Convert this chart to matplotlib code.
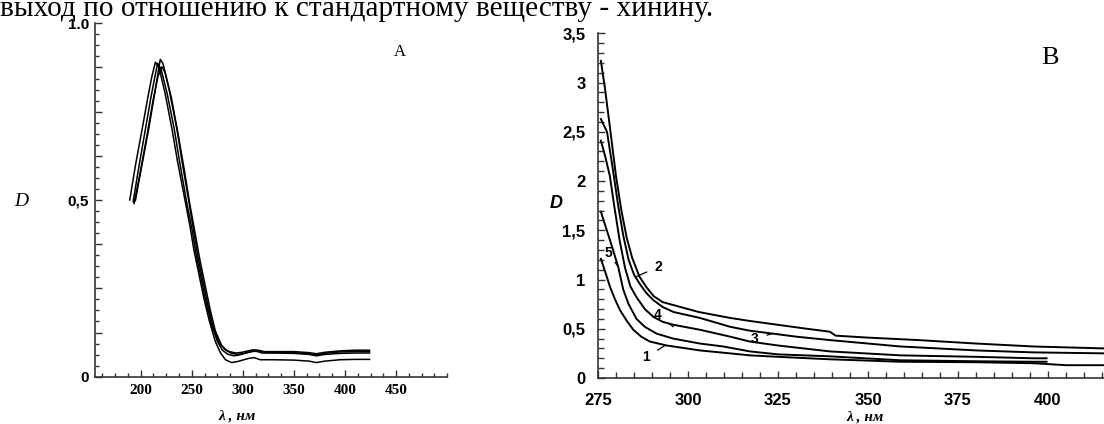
import matplotlib
matplotlib.use("Agg")
import matplotlib.pyplot as plt
from matplotlib.ticker import MultipleLocator, FixedLocator, FixedFormatter

# ---------------- data ----------------
caption = "выход по отношению к стандартному веществу - хинину."

# Panel A: four absorption spectra (wavelength, nm / optical density D)
a1_wl = [189.3, 195, 201.4, 207, 211, 214.4, 218, 224, 230.7, 236, 242, 248, 252, 257, 262, 267, 273, 278, 283, 289,
         295, 301, 306, 311, 317, 330, 350, 365, 372, 380, 395, 410, 424]
a1_d = [0.50, 0.60, 0.70, 0.79, 0.85, 0.89, 0.875, 0.80, 0.70, 0.61, 0.52, 0.43, 0.36, 0.29, 0.22, 0.16, 0.10, 0.068,
        0.048, 0.040, 0.043, 0.048, 0.052, 0.054, 0.048, 0.048, 0.047, 0.044, 0.040, 0.044, 0.048, 0.049, 0.049]

a2_wl = [192.6, 198, 204.6, 210, 214, 216.6, 220, 226, 232.9, 238, 244.6, 250, 254, 259, 264, 269, 275, 280, 285, 291,
         297, 303, 308, 313, 319, 332, 350, 365, 372, 380, 395, 410, 424]
a2_d = [0.495, 0.59, 0.70, 0.79, 0.85, 0.887, 0.87, 0.80, 0.70, 0.61, 0.50, 0.42, 0.35, 0.28, 0.21, 0.15, 0.10, 0.075,
        0.064, 0.059, 0.062, 0.067, 0.071, 0.072, 0.067, 0.067, 0.066, 0.063, 0.059, 0.063, 0.066, 0.067, 0.067]

a3_wl = [194.8, 200, 207.8, 213, 217, 219.2, 222, 228, 235.5, 241, 246.9, 252, 256, 261, 266, 271, 277, 282, 287, 293,
         299, 305, 310, 315, 321, 335, 350, 365, 372, 380, 395, 410, 424]
a3_d = [0.498, 0.58, 0.70, 0.79, 0.86, 0.898, 0.885, 0.81, 0.70, 0.60, 0.50, 0.41, 0.34, 0.27, 0.20, 0.14, 0.095, 0.078,
        0.071, 0.067, 0.069, 0.073, 0.076, 0.075, 0.071, 0.071, 0.071, 0.068, 0.065, 0.069, 0.073, 0.075, 0.075]

a4_wl = [193.5, 199, 206, 212, 217, 220.9, 224, 230, 237, 243, 248, 253, 258, 263, 268, 273, 279, 284, 289, 295,
         301, 307, 312, 317, 323, 337, 350, 365, 372, 380, 395, 410, 424]
a4_d = [0.49, 0.57, 0.68, 0.78, 0.85, 0.877, 0.86, 0.79, 0.68, 0.58, 0.49, 0.41, 0.33, 0.26, 0.19, 0.13, 0.09, 0.074,
        0.066, 0.063, 0.066, 0.070, 0.074, 0.072, 0.068, 0.068, 0.068, 0.065, 0.062, 0.066, 0.070, 0.071, 0.071]

a_xticks = [200, 250, 300, 350, 400, 450]
a_xticklabels = ["200", "250", "300", "350", "400", "450"]
a_yticks = [0, 0.125, 0.25, 0.375, 0.5, 0.625, 0.75, 0.875, 1.0]
a_yticklabels = ["0", "", "", "", "0,5", "", "", "", "1.0"]

# Panel B: five spectra labelled 1..5
b1_wl = [275.8, 276.8, 278.3, 279.7, 281.1, 283, 284.8, 287, 289.4, 294.1, 303.3, 311.7, 317.2, 325, 339.4, 359, 380,
         396, 405, 416]
b1_d = [1.21, 1.10, 0.93, 0.80, 0.69, 0.58, 0.49, 0.42, 0.37, 0.33, 0.28, 0.25, 0.23, 0.215, 0.19, 0.165, 0.16,
        0.15, 0.13, 0.13]

b2_wl = [275.8, 276.9, 278.3, 280, 281.5, 283, 284.5, 286.5, 288.5, 290.5, 293, 296, 303, 311.7, 317, 325, 333, 339.4,
         341, 350, 364, 380, 396, 416]
b2_d = [3.22, 2.95, 2.55, 2.05, 1.70, 1.42, 1.22, 1.03, 0.92, 0.83, 0.77, 0.74, 0.67, 0.61, 0.58, 0.54, 0.50, 0.47,
        0.43, 0.41, 0.385, 0.35, 0.32, 0.30]

b3_wl = [275.8, 277.5, 279, 280.6, 282, 283.5, 285, 286.7, 288.5, 290.4, 293, 296, 303.3, 311.7, 317.2, 323.7, 330,
         339.4, 350, 359, 364.4, 380, 396, 416]
b3_d = [2.63, 2.50, 2.15, 1.75, 1.45, 1.20, 1.05, 0.95, 0.86, 0.79, 0.72, 0.67, 0.61, 0.52, 0.48, 0.45, 0.42, 0.385,
        0.35, 0.32, 0.31, 0.28, 0.26, 0.25]

b4_wl = [275.8, 277, 278.3, 279.5, 281, 282.5, 284, 285.7, 288, 290.4, 293, 296, 303.3, 311.7, 317.2, 325, 339.4, 359,
         380, 396, 399.6]
b4_d = [2.41, 2.25, 2.05, 1.75, 1.40, 1.12, 0.93, 0.82, 0.70, 0.62, 0.57, 0.54, 0.49, 0.42, 0.37, 0.33, 0.27, 0.23,
        0.215, 0.20, 0.20]

b5_wl = [275.8, 277, 278.5, 280.6, 282, 283.5, 285.7, 288, 291.3, 295.9, 303.3, 309.8, 317.2, 325, 339.4, 359, 380,
         396, 399.6]
b5_d = [1.69, 1.55, 1.38, 1.13, 0.90, 0.75, 0.60, 0.52, 0.45, 0.40, 0.35, 0.32, 0.27, 0.24, 0.22, 0.18, 0.17, 0.165,
        0.165]

b_xticks = [275, 300, 325, 350, 375, 400]
b_yticks = [0, 0.5, 1, 1.5, 2, 2.5, 3, 3.5]
b_yticklabels = ["0", "0,5", "1", "1,5", "2", "2,5", "3", "3,5"]

# curve labels: text, text position, pointer end (data coords)
b_labels = ["2", "4", "5", "1", "3"]
b_label_xy = [(291.8, 1.13), (291.7, 0.64), (277.9, 1.27), (288.4, 0.21), (318.6, 0.40)]
b_label_tip = [(285.7, 1.03), (295.9, 0.52), (280.6, 1.13), (293.6, 0.33), (323.3, 0.45)]

# ---------------- figure ----------------
W, H = 1104, 424
fig = plt.figure(figsize=(W / 100, H / 100), dpi=100)
fig.patch.set_facecolor("white")


def box(x0, y0, x1, y1):
    return [x0 / W, 1 - y1 / H, (x1 - x0) / W, (y1 - y0) / H]


SERIF = "Liberation Serif"
SANS = "Liberation Sans"

fig.text(0.0, 1 - 16 / H, caption, family=SERIF, fontsize=21.1, ha="left", va="baseline")

# ---- Panel A ----
axA = fig.add_axes(box(94.7, 23.3, 447.2, 376.7))
for x, d in [(a1_wl, a1_d), (a2_wl, a2_d), (a3_wl, a3_d), (a4_wl, a4_d)]:
    axA.plot(x, d, color="black", lw=1.1)
axA.set_xlim(155, 500)
axA.set_ylim(0, 1.0)
for s in ("top", "right"):
    axA.spines[s].set_visible(False)
for s in ("left", "bottom"):
    axA.spines[s].set_color("#333333")
    axA.spines[s].set_linewidth(1.2)
axA.xaxis.set_major_locator(FixedLocator(a_xticks))
axA.xaxis.set_major_formatter(FixedFormatter(a_xticklabels))
axA.xaxis.set_minor_locator(MultipleLocator(12.5))
axA.yaxis.set_major_locator(FixedLocator(a_yticks))
axA.yaxis.set_major_formatter(FixedFormatter(a_yticklabels))
axA.yaxis.set_minor_locator(MultipleLocator(1 / 32))
axA.tick_params(axis="both", which="major", direction="in", length=5, width=1, color="#333333")
axA.tick_params(axis="both", which="minor", direction="in", length=3, width=1, color="#333333")
axA.tick_params(axis="x", which="major", pad=5)
axA.tick_params(axis="y", which="major", pad=4)
for lab in axA.get_xticklabels():
    lab.set_family(SERIF)
    lab.set_fontweight("bold")
    lab.set_fontsize(11)
for lab in axA.get_yticklabels():
    lab.set_family(SANS)
    lab.set_fontweight("bold")
    lab.set_fontsize(11)
fig.text(21 / W, 1 - 201 / H, "D", family=SERIF, style="italic", fontsize=14, ha="center", va="center")
fig.text(237 / W, 1 - 416 / H, "λ , нм", family=SERIF, style="italic", fontweight="bold", fontsize=11,
         ha="center", va="center")
fig.text(400 / W, 1 - 52 / H, "A", family=SERIF, fontsize=12, ha="center", va="center")

# ---- Panel B ----
axB = fig.add_axes(box(598, 33.3, 1104, 378))
for x, d in [(b1_wl, b1_d), (b2_wl, b2_d), (b3_wl, b3_d), (b4_wl, b4_d), (b5_wl, b5_d)]:
    axB.plot(x, d, color="black", lw=1.4)
axB.set_xlim(275, 275 + 506 / 3.6)
axB.set_ylim(0, 3.5)
for s in ("top", "right"):
    axB.spines[s].set_visible(False)
for s in ("left", "bottom"):
    axB.spines[s].set_color("#333333")
    axB.spines[s].set_linewidth(1.2)
axB.xaxis.set_major_locator(FixedLocator(b_xticks))
axB.xaxis.set_minor_locator(MultipleLocator(5))
axB.yaxis.set_major_locator(FixedLocator(b_yticks))
axB.yaxis.set_major_formatter(FixedFormatter(b_yticklabels))
axB.yaxis.set_minor_locator(MultipleLocator(0.1))
axB.tick_params(axis="both", which="major", direction="in", length=5, width=1, color="#333333")
axB.tick_params(axis="both", which="minor", direction="in", length=4, width=1, color="#333333")
axB.tick_params(axis="x", which="major", pad=11)
axB.tick_params(axis="y", which="major", pad=9)
for lab in axB.get_xticklabels() + axB.get_yticklabels():
    lab.set_family(SANS)
    lab.set_fontweight("bold")
    lab.set_fontsize(12)
for t, xy, tip in zip(b_labels, b_label_xy, b_label_tip):
    axB.annotate(t, xy=tip, xytext=xy, textcoords="data", family=SANS, fontweight="bold", fontsize=10,
                 ha="center", va="center",
                 arrowprops=dict(arrowstyle="-", color="black", lw=0.9, shrinkA=4, shrinkB=0))
fig.text(556 / W, 1 - 203 / H, "D", family=SANS, style="italic", fontweight="bold", fontsize=13,
         ha="center", va="center")
fig.text(865 / W, 1 - 417 / H, "λ , нм", family=SERIF, style="italic", fontweight="bold", fontsize=11,
         ha="center", va="center")
fig.text(1050 / W, 1 - 58 / H, "B", family=SERIF, fontsize=19, ha="center", va="center")

fig.savefig("out.png", dpi=100, facecolor="white")
